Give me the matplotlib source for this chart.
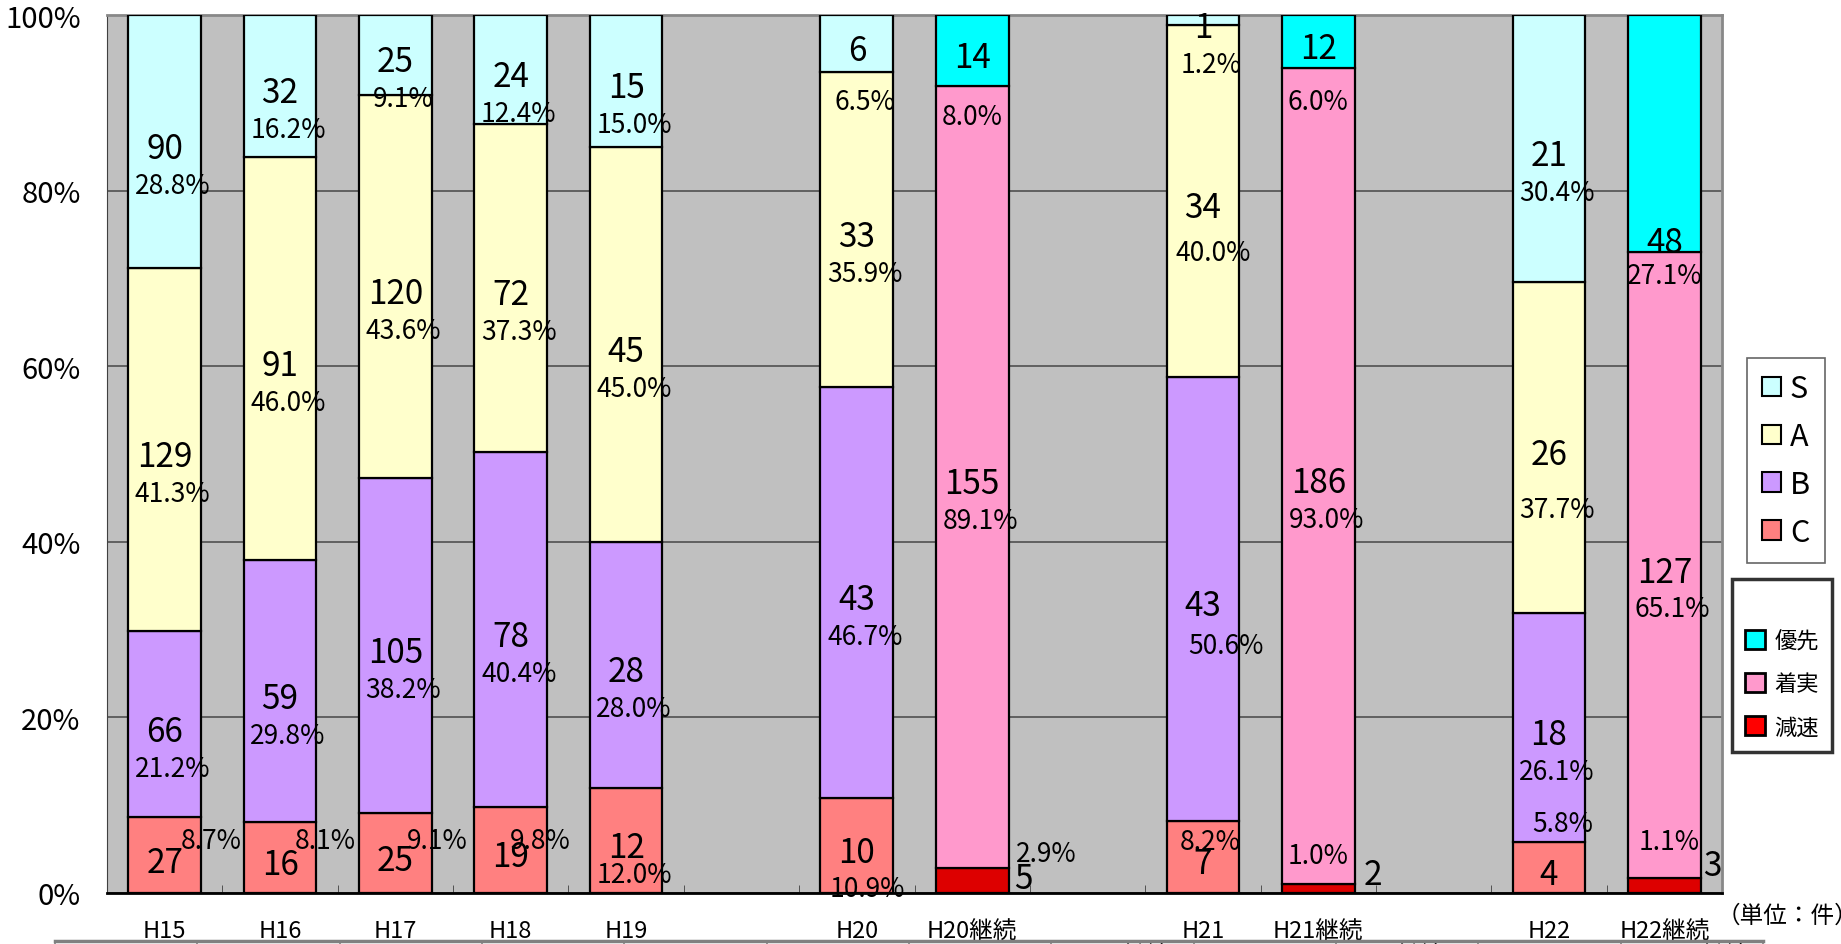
import matplotlib
matplotlib.use('Agg')
import matplotlib.pyplot as plt
from matplotlib.patches import Patch
from matplotlib.lines import Line2D
from matplotlib.ticker import FixedLocator, PercentFormatter

plt.rcParams['font.family'] = ['Noto Sans CJK JP', 'DejaVu Sans']

# 横軸の並び（空欄は間隔用）
slots = ['H15', 'H16', 'H17', 'H18', 'H19', '', 'H20', 'H20継続', '',
         'H21', 'H21継続', '', 'H22', 'H22継続']

# 評価 S/A/B/C の件数
rating_years = ['H15', 'H16', 'H17', 'H18', 'H19', 'H20', 'H21', 'H22']
c_counts = [27, 16, 25, 19, 12, 10, 7, 4]
b_counts = [66, 59, 105, 78, 28, 43, 43, 18]
a_counts = [129, 91, 120, 72, 45, 33, 34, 26]
s_counts = [90, 32, 25, 24, 15, 6, 1, 21]
c_pct = ['8.7%', '8.1%', '9.1%', '9.8%', '12.0%', '10.9%', '8.2%', '5.8%']
b_pct = ['21.2%', '29.8%', '38.2%', '40.4%', '28.0%', '46.7%', '50.6%', '26.1%']
a_pct = ['41.3%', '46.0%', '43.6%', '37.3%', '45.0%', '35.9%', '40.0%', '37.7%']
s_pct = ['28.8%', '16.2%', '9.1%', '12.4%', '15.0%', '6.5%', '1.2%', '30.4%']

# 継続分 優先/着実/減速 の件数
cont_years = ['H20継続', 'H21継続', 'H22継続']
slow_counts = [5, 2, 3]
steady_counts = [155, 186, 127]
prio_counts = [14, 12, 48]
slow_pct = ['2.9%', '1.0%', '1.1%']
steady_pct = ['89.1%', '93.0%', '65.1%']
prio_pct = ['8.0%', '6.0%', '27.1%']

rating_series = [('C', c_counts, c_pct, '#FF8080'),
                 ('B', b_counts, b_pct, '#CC99FF'),
                 ('A', a_counts, a_pct, '#FFFFCC'),
                 ('S', s_counts, s_pct, '#CCFFFF')]
cont_series = [('減速', slow_counts, slow_pct, '#DD0000'),
               ('着実', steady_counts, steady_pct, '#FF99CC'),
               ('優先', prio_counts, prio_pct, '#00FFFF')]

# ラベル位置の例外 (dx, y%)
label_pos = {
    ('H15', 'C'): {'p': (0.40, 6.8)},
    ('H16', 'C'): {'p': (0.39, 6.8)},
    ('H17', 'C'): {'p': (0.36, 6.8)},
    ('H18', 'C'): {'p': (0.26, 6.8)},
    ('H19', 'C'): {'p': (0.07, 2.9)},
    ('H20', 'C'): {'p': (0.09, 1.3)},
    ('H21', 'C'): {'p': (0.06, 6.7)},
    ('H22', 'C'): {'p': (0.12, 8.7)},
    ('H20', 'S'): {'p': (0.07, 90.9)},
    ('H21', 'A'): {'p': (0.09, 73.7)},
    ('H21', 'B'): {'p': (0.20, 29.0)},
    ('H22', 'A'): {'p': (0.07, 44.5)},
    ('H20継続', '減速'): {'n': (0.44, 2.4), 'p': (0.64, 5.3)},
    ('H21継続', '減速'): {'n': (0.47, 2.9), 'p': (0.0, 5.1)},
    ('H22継続', '減速'): {'n': (0.42, 3.9), 'p': (0.04, 6.7)},
    ('H20継続', '優先'): {'p': (0.0, 89.2)},
    ('H21継続', '優先'): {'p': (0.0, 90.9)},
    ('H22継続', '優先'): {'n': (0.0, 74.9), 'p': (0.0, 71.1)},
}

fig = plt.figure(figsize=(18.41, 9.45), dpi=100)
ax = fig.add_axes([107 / 1841, 51 / 945, 1615 / 1841, 878 / 945])
ax.set_facecolor('#C0C0C0')
bw = 0.63
yfix = -0.8  # フォントの上下余白の補正


def draw_group(years, series):
    totals = [sum(s[1][i] for s in series) for i in range(len(years))]
    bottoms = [0.0] * len(years)
    for name, counts, pcts, color in series:
        for i, yr in enumerate(years):
            x = slots.index(yr)
            h = counts[i] / totals[i] * 100
            ax.bar(x, h, bw, bottom=bottoms[i], color=color, edgecolor='black',
                   linewidth=1.6, zorder=3)
            mid = bottoms[i] + h / 2
            pos = label_pos.get((yr, name), {})
            ndx, ny = pos.get('n', (0.0, mid))
            pdx, py = pos.get('p', (0.07, mid - 4.2))
            ax.text(x + ndx, ny + yfix, str(counts[i]), ha='center', va='center',
                    fontsize=24, zorder=5)
            ax.text(x + pdx, py + yfix, pcts[i], ha='center', va='center',
                    fontsize=19, zorder=5)
            bottoms[i] += h


draw_group(rating_years, rating_series)
draw_group(cont_years, cont_series)

ax.set_xlim(-0.5, len(slots) - 0.5)
ax.set_ylim(0, 100)
ax.set_xticks(range(len(slots)))
ax.set_xticklabels(slots, fontsize=17)
ax.xaxis.set_minor_locator(FixedLocator([i + 0.5 for i in range(len(slots) - 1)]))
ax.tick_params(axis='x', which='major', length=0, pad=19)
ax.tick_params(axis='x', which='minor', direction='in', length=6, color='#404040')
ax.set_yticks(range(0, 101, 20))
ax.yaxis.set_major_formatter(PercentFormatter(decimals=0))
ax.tick_params(axis='y', length=0, pad=19, labelsize=21)
ax.yaxis.grid(True, color='#505050', linewidth=1.2, zorder=0)
ax.set_axisbelow(True)
for side in ['top', 'right']:
    ax.spines[side].set_color('#888888')
    ax.spines[side].set_linewidth(2)
ax.spines['left'].set_color('#404040')
ax.spines['bottom'].set_color('black')
ax.spines['bottom'].set_linewidth(2)

h1 = [Patch(facecolor=c, edgecolor='black', linewidth=1.5) for _, _, _, c in rating_series[::-1]]
leg1 = fig.legend(h1, [n for n, _, _, _ in rating_series[::-1]], loc='upper left',
                  bbox_to_anchor=(1747 / 1841, 1 - 359 / 945), fontsize=22,
                  frameon=True, fancybox=False, edgecolor='#404040',
                  handlelength=0.6, handleheight=0.6, handletextpad=0.3,
                  labelspacing=0.55, borderpad=0.5, borderaxespad=0)
leg1.get_frame().set_linewidth(1.2)

h2 = [Patch(facecolor=c, edgecolor='black', linewidth=2) for c in ['#00FFFF', '#FF99CC', '#FF0000']]
leg2 = fig.legend(h2, [n for n, _, _, _ in cont_series[::-1]], loc='upper left',
                  bbox_to_anchor=(1732 / 1841, 1 - 580 / 945), fontsize=16,
                  title=' ', title_fontsize=12,
                  frameon=True, fancybox=False, edgecolor='black',
                  handlelength=0.9, handleheight=0.9, handletextpad=0.4,
                  labelspacing=0.9, borderpad=0.6, borderaxespad=0)
leg2.get_frame().set_linewidth(2.5)

fig.text(1717 / 1841, 1 - 916 / 945, '（単位：件）', fontsize=17, ha='left', va='center')

# 下の表の一部
fig.add_artist(Line2D([55 / 1841, 1763 / 1841], [1 - 942 / 945] * 2, color='#808080', linewidth=2.5))
for k in range(13):
    xv = (55 + k * (1763 - 55) / 12) / 1841
    fig.add_artist(Line2D([xv, xv], [0, 1 - 942 / 945], color='#808080', linewidth=1.2))
for xc in [1146, 1420, 1725]:
    fig.text(xc / 1841, 1 - 946 / 945, '継続', fontsize=17, ha='center', va='top')

fig.savefig('out.png', dpi=100)
